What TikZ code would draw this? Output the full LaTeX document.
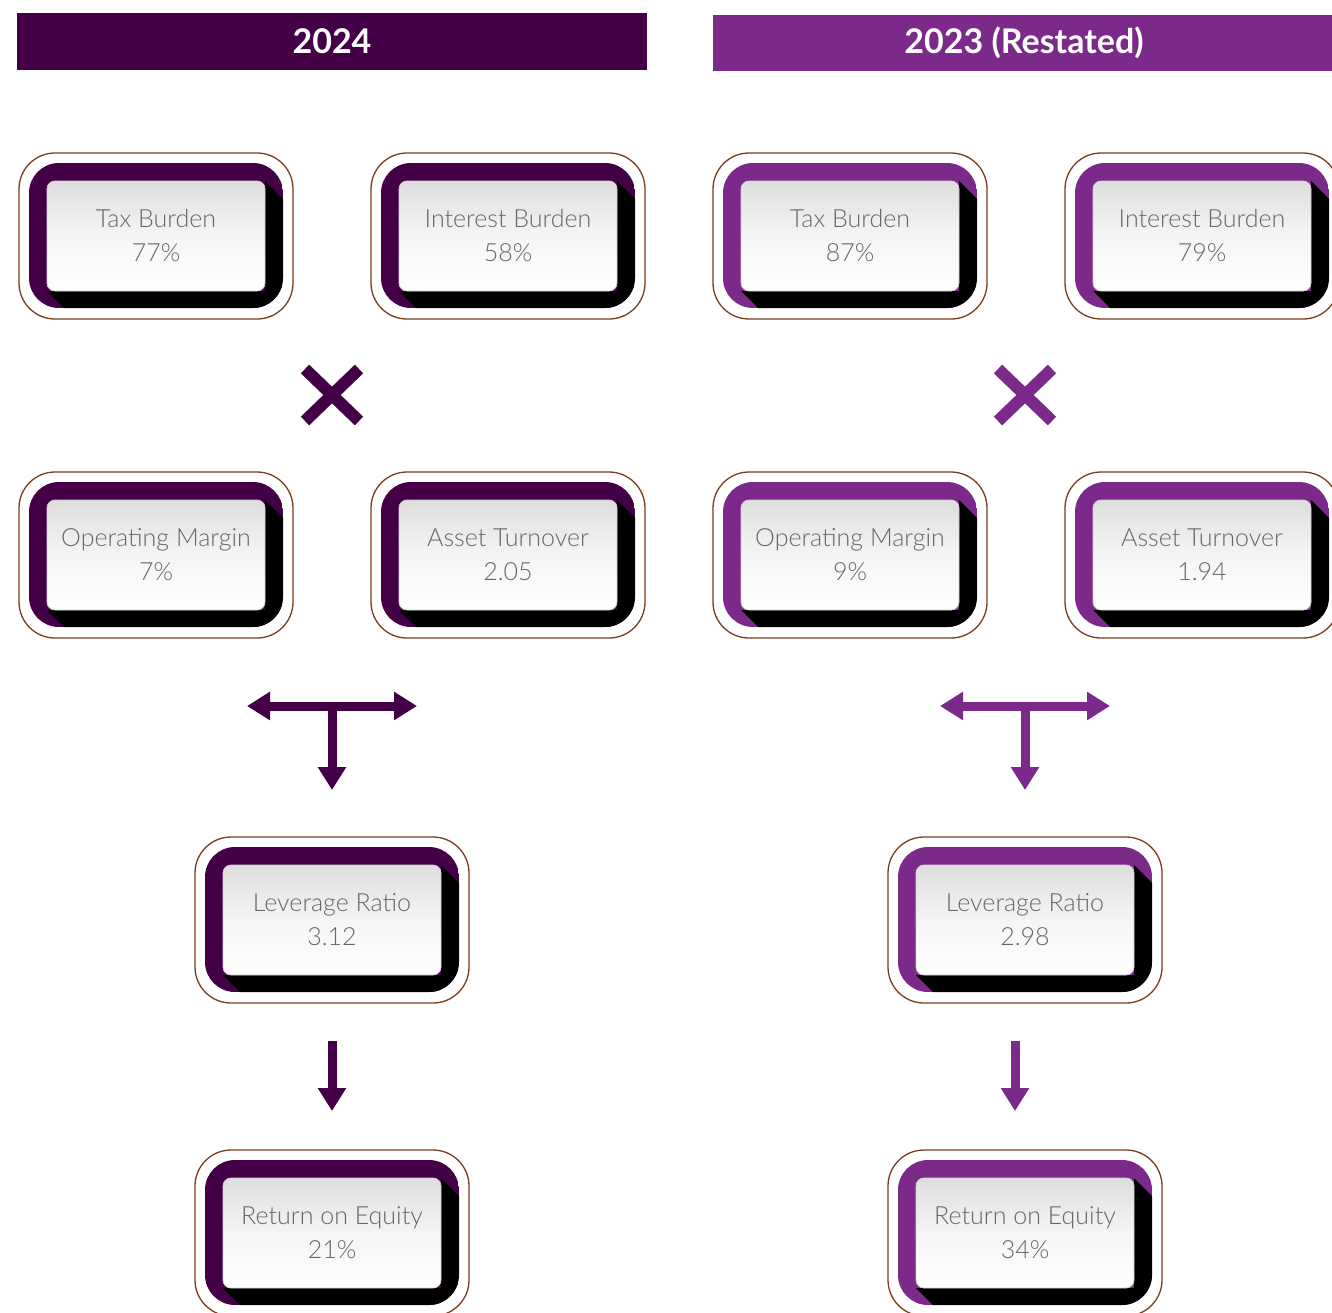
\documentclass[tikz,border=0pt]{standalone}
\usepackage{fontspec}
\setmainfont{Lato}
\newfontfamily\kpifont{Lato}[UprightFont=* Light]
\usetikzlibrary{arrows.meta,shadings}

\definecolor{plumdark}{RGB}{68,0,70}
\definecolor{plumlight}{RGB}{124,42,138}
\definecolor{ringbrown}{RGB}{122,62,30}
\definecolor{labelgray}{RGB}{102,102,102}

\tikzset{
  outerring/.style={draw=ringbrown, line width=1.3pt, rounded corners=36pt, fill=white},
  kpi/.style={rounded corners=8pt, minimum width=218pt, minimum height=110pt,
    inner sep=0pt, top color=gray!26, bottom color=white, middle color=gray!8,
    draw=gray!35, line width=0.8pt, align=center, text=labelgray,
    font=\kpifont\fontsize{25}{34}\selectfont},
  yearbar/.style={minimum height=57pt, inner sep=0pt, text=white,
    font=\bfseries\fontsize{34}{40}\selectfont},
  crossmark/.style={line width=12pt},
  flowarrow/.style={line width=9pt, -{Triangle[length=23pt,width=27pt]}},
  twoway/.style={line width=9pt, {Triangle[length=23pt,width=27pt]}-{Triangle[length=23pt,width=27pt]}}
}

% #1 name, #2 x, #3 y, #4 frame colour, #5 label, #6 value
\newcommand{\kpibox}[6]{%
  \draw[outerring] (#2-137,#3-83) rectangle (#2+137,#3+83);
  \begin{scope}
    \path[clip, rounded corners=30pt] (#2-127,#3-73) rectangle (#2+127,#3+72);
    \fill[#4] (#2-127,#3-73) rectangle (#2+127,#3+72);
    \fill[black] (#2-109,#3+55) -- (#2-69,#3+95) -- (#2+149,#3+95)
      -- (#2+149,#3-15) -- (#2+109,#3-55) -- (#2+109,#3+55) -- cycle;
  \end{scope}
  \node[kpi] (#1) at (#2,#3) {#5\\#6};
}

\begin{document}
\begin{tikzpicture}[x=1pt, y=-1pt]
  \useasboundingbox (0,0) rectangle (1332,1312);
  \clip (0,0) rectangle (1332,1312);
  \fill[white] (0,0) rectangle (1332,1312);

  % year headers
  \node[yearbar, fill=plumdark, minimum width=630pt] (head24) at (332,41.5) {2024};
  \node[yearbar, fill=plumlight, minimum width=622pt, minimum height=56pt] (head23) at (1024,43) {2023 (Restated)};

  % 2024 column
  \kpibox{tb24}{156}{236}{plumdark}{Tax Burden}{77\%}
  \kpibox{ib24}{508}{236}{plumdark}{Interest Burden}{58\%}
  \kpibox{om24}{156}{555}{plumdark}{Operating Margin}{7\%}
  \kpibox{at24}{508}{555}{plumdark}{Asset Turnover}{2.05}
  \kpibox{lr24}{332}{920}{plumdark}{Leverage Ratio}{3.12}
  \kpibox{roe24}{332}{1233}{plumdark}{Return on Equity}{21\%}

  % 2023 column
  \kpibox{tb23}{850}{236}{plumlight}{Tax Burden}{87\%}
  \kpibox{ib23}{1202}{236}{plumlight}{Interest Burden}{79\%}
  \kpibox{om23}{850}{555}{plumlight}{Operating Margin}{9\%}
  \kpibox{at23}{1202}{555}{plumlight}{Asset Turnover}{1.94}
  \kpibox{lr23}{1025}{920}{plumlight}{Leverage Ratio}{2.98}
  \kpibox{roe23}{1025}{1233}{plumlight}{Return on Equity}{34\%}

  % multiplication signs
  \coordinate (mul24) at (332,395);
  \coordinate (mul23) at (1025,395);
  \foreach \c/\col in {mul24/plumdark, mul23/plumlight}{
    \draw[crossmark, \col] ([shift={(-27,-26)}]\c) -- ([shift={(27,26)}]\c);
    \draw[crossmark, \col] ([shift={(27,-26)}]\c) -- ([shift={(-27,26)}]\c);
  }

  % T-shaped arrows
  \coordinate (tl24) at (247,706);  \coordinate (tr24) at (417,706);
  \coordinate (tj24) at (332,706);  \coordinate (td24) at (332,790);
  \draw[twoway, plumdark] (tl24) -- (tr24);
  \draw[flowarrow, plumdark] (tj24) -- (td24);

  \coordinate (tl23) at (940,706);  \coordinate (tr23) at (1110,706);
  \coordinate (tj23) at (1025,706); \coordinate (td23) at (1025,790);
  \draw[twoway, plumlight] (tl23) -- (tr23);
  \draw[flowarrow, plumlight] (tj23) -- (td23);

  % arrows towards return on equity
  \coordinate (ds24) at (332,1041); \coordinate (de24) at (332,1111);
  \coordinate (ds23) at (1015,1041); \coordinate (de23) at (1015,1111);
  \draw[flowarrow, plumdark] (ds24) -- (de24);
  \draw[flowarrow, plumlight] (ds23) -- (de23);
\end{tikzpicture}
\end{document}
